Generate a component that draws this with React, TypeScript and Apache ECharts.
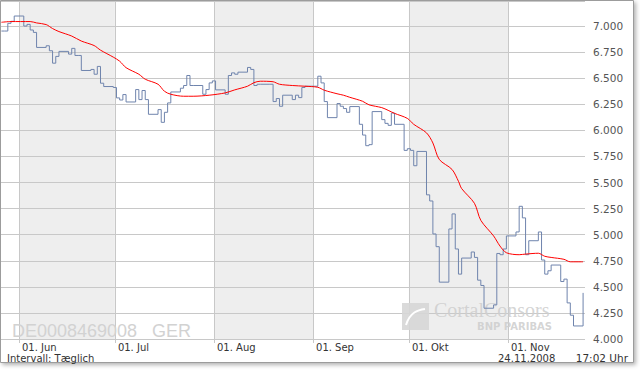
import React, { useEffect, useRef } from "react";
import * as echarts from "echarts";

// Daily closing prices (trading days)
const closeDates = [
  "2008-05-26", "2008-05-27", "2008-05-28", "2008-05-29", "2008-05-30",
  "2008-06-02", "2008-06-03", "2008-06-04", "2008-06-05", "2008-06-06",
  "2008-06-09", "2008-06-10", "2008-06-11", "2008-06-12", "2008-06-13",
  "2008-06-16", "2008-06-17", "2008-06-18", "2008-06-19", "2008-06-20",
  "2008-06-23", "2008-06-24", "2008-06-25", "2008-06-26", "2008-06-27",
  "2008-06-30", "2008-07-01", "2008-07-02", "2008-07-03", "2008-07-04",
  "2008-07-07", "2008-07-08", "2008-07-09", "2008-07-10", "2008-07-11",
  "2008-07-14", "2008-07-15", "2008-07-16", "2008-07-17", "2008-07-18",
  "2008-07-21", "2008-07-22", "2008-07-23", "2008-07-24", "2008-07-25",
  "2008-07-28", "2008-07-29", "2008-07-30", "2008-07-31", "2008-08-01",
  "2008-08-04", "2008-08-05", "2008-08-06", "2008-08-07", "2008-08-08",
  "2008-08-11", "2008-08-12", "2008-08-13", "2008-08-14", "2008-08-15",
  "2008-08-18", "2008-08-19", "2008-08-20", "2008-08-21", "2008-08-22",
  "2008-08-25", "2008-08-26", "2008-08-27", "2008-08-28", "2008-08-29",
  "2008-09-01", "2008-09-02", "2008-09-03", "2008-09-04", "2008-09-05",
  "2008-09-08", "2008-09-09", "2008-09-10", "2008-09-11", "2008-09-12",
  "2008-09-15", "2008-09-16", "2008-09-17", "2008-09-18", "2008-09-19",
  "2008-09-22", "2008-09-23", "2008-09-24", "2008-09-25", "2008-09-26",
  "2008-09-29", "2008-09-30", "2008-10-01", "2008-10-02", "2008-10-03",
  "2008-10-06", "2008-10-07", "2008-10-08", "2008-10-09", "2008-10-10",
  "2008-10-13", "2008-10-14", "2008-10-15", "2008-10-16", "2008-10-17",
  "2008-10-20", "2008-10-21", "2008-10-22", "2008-10-23", "2008-10-24",
  "2008-10-27", "2008-10-28", "2008-10-29", "2008-10-30", "2008-10-31",
  "2008-11-03", "2008-11-04", "2008-11-05", "2008-11-06", "2008-11-07",
  "2008-11-10", "2008-11-11", "2008-11-12", "2008-11-13", "2008-11-14",
  "2008-11-17", "2008-11-18", "2008-11-19", "2008-11-20", "2008-11-21",
  "2008-11-24",
];
const closeValues = [
  6.952, 6.952, 7.026, 7.045, 7.096,
  7.0, 7.016, 6.962, 6.939, 6.795,
  6.811, 6.763, 6.644, 6.709, 6.757,
  6.731, 6.786, 6.718, 6.718, 6.574,
  6.584, 6.538, 6.613, 6.452, 6.42,
  6.411, 6.311, 6.291, 6.343, 6.272,
  6.391, 6.295, 6.382, 6.295, 6.154,
  6.199, 6.077, 6.173, 6.263, 6.368,
  6.404, 6.43, 6.526, 6.43, 6.43,
  6.346, 6.391, 6.455, 6.474, 6.388,
  6.346, 6.526, 6.551, 6.538, 6.558,
  6.603, 6.584, 6.43, 6.442, 6.442,
  6.442, 6.276, 6.305, 6.231, 6.337,
  6.295, 6.337, 6.314, 6.411, 6.423,
  6.423, 6.519, 6.455, 6.276, 6.122,
  6.257, 6.231, 6.209, 6.173, 6.228,
  6.058, 5.955, 5.853, 5.863, 6.18,
  6.103, 6.067, 6.048, 6.166, 6.058,
  5.808, 5.824, 5.808, 5.661, 5.798,
  5.382, 5.323, 5.007, 4.885, 4.545,
  5.055, 5.199, 4.863, 4.622, 4.776,
  4.834, 4.782, 4.564, 4.513, 4.295,
  4.327, 4.82, 4.808, 4.863, 4.988,
  5.026, 5.272, 5.161, 4.808, 4.942,
  5.026, 4.757, 4.622, 4.654, 4.709,
  4.551, 4.574, 4.346, 4.228, 4.125,
  4.442,
];

// Moving average (red line)
const maDates = [
  "2008-05-26", "2008-05-29", "2008-06-04", "2008-06-06", "2008-06-09", "2008-06-11",
  "2008-06-13", "2008-06-17", "2008-06-20", "2008-06-24", "2008-06-26", "2008-06-30",
  "2008-07-02", "2008-07-04", "2008-07-08", "2008-07-10", "2008-07-14", "2008-07-16",
  "2008-07-18", "2008-07-22", "2008-07-25", "2008-07-30", "2008-08-04", "2008-08-07",
  "2008-08-11", "2008-08-13", "2008-08-15", "2008-08-19", "2008-08-21", "2008-08-25",
  "2008-08-29", "2008-09-02", "2008-09-04", "2008-09-08", "2008-09-10", "2008-09-12",
  "2008-09-16", "2008-09-18", "2008-09-22", "2008-09-24", "2008-09-26", "2008-09-30",
  "2008-10-02", "2008-10-06", "2008-10-08", "2008-10-10", "2008-10-14", "2008-10-16",
  "2008-10-17", "2008-10-21", "2008-10-23", "2008-10-27", "2008-10-29", "2008-10-31",
  "2008-11-04", "2008-11-06", "2008-11-10", "2008-11-12", "2008-11-14", "2008-11-18",
  "2008-11-20", "2008-11-24",
];
const maValues = [
  7.036, 7.043, 7.043, 7.03, 7.014, 6.976,
  6.947, 6.904, 6.856, 6.813, 6.769, 6.702,
  6.663, 6.601, 6.538, 6.49, 6.442, 6.375,
  6.346, 6.327, 6.327, 6.337, 6.359, 6.388,
  6.423, 6.457, 6.471, 6.466, 6.442, 6.43,
  6.423, 6.413, 6.385, 6.351, 6.337, 6.317,
  6.279, 6.245, 6.218, 6.192, 6.163, 6.115,
  6.058, 5.976, 5.879, 5.721, 5.625, 5.512,
  5.442, 5.301, 5.137, 4.988, 4.891, 4.827,
  4.808, 4.814, 4.822, 4.793, 4.782, 4.764,
  4.74, 4.74,
];

const monthStarts = ["2008-06-01", "2008-07-01", "2008-08-01", "2008-09-01", "2008-10-01", "2008-11-01"];
const monthLabels = ["01. Jun", "01. Jul", "01. Aug", "01. Sep", "01. Okt", "01. Nov"];

const yMin = 4.0;
const yMax = 7.24;
const yStep = 0.25;

const noon = (s: string) => {
  const [y, m, d] = s.split("-").map(Number);
  return Date.UTC(y, m - 1, d, 12);
};
const midnight = (s: string) => {
  const [y, m, d] = s.split("-").map(Number);
  return Date.UTC(y, m - 1, d, 0);
};

const xMin = Date.UTC(2008, 4, 26, 8, 50);
const xMax = Date.UTC(2008, 10, 25, 2, 20);

export default function App() {
  const ref = useRef<HTMLDivElement>(null);

  useEffect(() => {
    document.body.style.margin = "0";
    if (!ref.current) return;
    const chart = echarts.init(ref.current, undefined, { renderer: "svg" });
    const monthTicks = monthStarts.map(midnight);
    const font = "DejaVu Sans, Verdana, sans-serif";

    const option: any = {
      animation: false,
      grid: { left: 1, right: 55, top: 1, bottom: 31, containLabel: false },
      xAxis: {
        type: "value",
        min: xMin,
        max: xMax,
        z: 0,
        axisLine: { show: false },
        axisTick: {
          show: true,
          customValues: monthTicks,
          length: 4,
          lineStyle: { color: "#c8c8c8" },
        },
        axisLabel: {
          customValues: monthTicks,
          formatter: (v: number) => {
            let best = 0;
            let bd = Infinity;
            monthTicks.forEach((t, i) => {
              const dd = Math.abs(t - v);
              if (dd < bd) { bd = dd; best = i; }
            });
            return monthLabels[best];
          },
          align: "left",
          padding: [0, 0, 0, 3],
          margin: 3,
          color: "#333",
          fontSize: 10,
          fontFamily: font,
        },
        splitLine: { show: true, lineStyle: { color: "#c8c8c8", width: 1 } },
        splitArea: { show: true, areaStyle: { color: ["#eeeeee", "rgba(255,255,255,0)"] } },
      },
      yAxis: {
        type: "value",
        position: "right",
        min: yMin,
        max: yMax,
        interval: yStep,
        z: 1,
        axisLine: { show: false },
        axisTick: { show: false },
        axisLabel: {
          formatter: (v: number) => v.toFixed(3),
          showMaxLabel: false,
          margin: 8,
          color: "#555",
          fontSize: 10.5,
          fontFamily: font,
        },
        splitLine: { show: true, lineStyle: { color: "#c8c8c8", width: 1 } },
      },
      series: [
        {
          type: "line",
          name: "Kurs",
          step: "end",
          symbol: "none",
          z: 3,
          lineStyle: { color: "#6f84ad", width: 1 },
          data: closeDates.map((d, i) => [noon(d), closeValues[i]]),
        },
        {
          type: "line",
          name: "GD",
          symbol: "none",
          smooth: 0.3,
          z: 4,
          lineStyle: { color: "#ff0000", width: 1 },
          data: maDates.map((d, i) => [noon(d), maValues[i]]),
        },
      ],
      graphic: [
        {
          type: "rect",
          z: -10,
          silent: true,
          shape: { x: 0.5, y: 0.5, width: 633, height: 362 },
          style: {
            fill: "#ffffff",
            stroke: "#9c9c9c",
            lineWidth: 1,
            shadowBlur: 4,
            shadowOffsetX: 2,
            shadowOffsetY: 2,
            shadowColor: "rgba(0,0,0,0.3)",
          },
        },
        {
          type: "text",
          z: 2,
          silent: true,
          x: 12,
          y: 331,
          style: {
            text: "DE0008469008",
            fill: "#d2d2d2",
            font: "18px 'Liberation Sans', Arial, sans-serif",
            verticalAlign: "middle",
          },
        },
        {
          type: "text",
          z: 2,
          silent: true,
          x: 152,
          y: 331,
          style: {
            text: "GER",
            fill: "#d2d2d2",
            font: "18px 'Liberation Sans', Arial, sans-serif",
            verticalAlign: "middle",
          },
        },
        {
          type: "rect",
          z: 2,
          silent: true,
          shape: { x: 402, y: 303, width: 27, height: 27 },
          style: { fill: "#d6d6d6", opacity: 0.9 },
        },
        {
          type: "bezierCurve",
          z: 2,
          silent: true,
          shape: { x1: 406, y1: 325, x2: 425, y2: 309, cpx1: 410, cpy1: 312, cpx2: 418, cpy2: 310 },
          style: { stroke: "#ffffff", lineWidth: 2, fill: null },
        },
        {
          type: "text",
          z: 2,
          silent: true,
          x: 434,
          y: 310,
          style: {
            text: "CortalConsors",
            fill: "#cfcfcf",
            font: "20px 'Liberation Serif', 'DejaVu Serif', serif",
            verticalAlign: "middle",
            opacity: 0.9,
          },
        },
        {
          type: "text",
          z: 2,
          silent: true,
          x: 552,
          y: 326.5,
          style: {
            text: "BNP PARIBAS",
            fill: "#cfcfcf",
            font: "bold 10px 'DejaVu Sans', sans-serif",
            align: "right",
            verticalAlign: "middle",
            opacity: 0.9,
          },
        },
        {
          type: "text",
          silent: true,
          x: 7,
          y: 358,
          style: {
            text: "Intervall: Tæglich",
            fill: "#333",
            font: "10px 'DejaVu Sans', Verdana, sans-serif",
            verticalAlign: "middle",
          },
        },
        {
          type: "text",
          silent: true,
          x: 498,
          y: 358,
          style: {
            text: "24.11.2008",
            fill: "#333",
            font: "10px 'DejaVu Sans', Verdana, sans-serif",
            verticalAlign: "middle",
          },
        },
        {
          type: "text",
          silent: true,
          x: 628,
          y: 358,
          style: {
            text: "17:02 Uhr",
            fill: "#333",
            font: "10.5px 'DejaVu Sans', Verdana, sans-serif",
            align: "right",
            verticalAlign: "middle",
          },
        },
      ],
    };
    chart.setOption(option);
    return () => chart.dispose();
  }, []);

  return <div ref={ref} style={{ width: 640, height: 370 }} />;
}
